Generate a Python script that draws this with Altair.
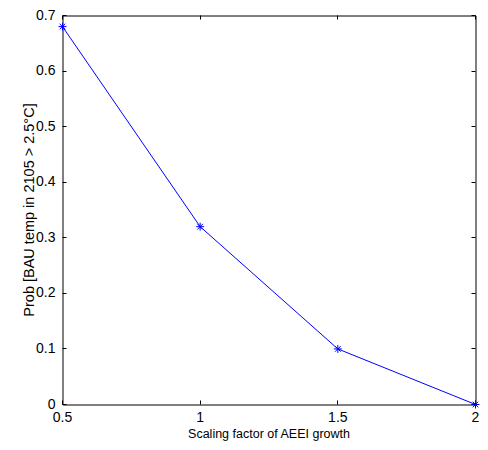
import altair as alt
import pandas as pd

scaling = [0.5, 1.0, 1.5, 2.0]
prob = [0.68, 0.32, 0.10, 0.0]
x_ticks = [0.5, 1, 1.5, 2]
y_ticks = [0, 0.1, 0.2, 0.3, 0.4, 0.5, 0.6, 0.7]

df = pd.DataFrame({"s": scaling, "p": prob})

LABEL_FONT = "Liberation Sans, Arial"
TITLE_FONT = "Liberation Sans, Arial"

xs = alt.Scale(domain=[0.5, 2], nice=False, zero=False)
ys = alt.Scale(domain=[0, 0.7], nice=False)

common = dict(grid=False, domain=False, tickColor="black", tickSize=4, offset=-4,
              labelFont=LABEL_FONT, labelFontSize=14, labelColor="black", translate=0)

base = alt.Chart(df)

line = base.mark_line(color="#0000ff", strokeWidth=1).encode(
    x=alt.X("s:Q", scale=xs, axis=alt.Axis(
        orient="bottom", values=x_ticks, format="~g", labelPadding=6,
        title="Scaling factor of AEEI growth", titleFont=TITLE_FONT, titleFontSize=12.5,
        titleFontWeight="normal", titleColor="black", titleBaseline="alphabetic",
        titleY=37, labelFlush=False, **common)),
    y=alt.Y("p:Q", scale=ys, axis=alt.Axis(
        orient="left", values=y_ticks, format="~g", labelPadding=7,
        title="Prob [BAU temp in 2105 > 2.5°C]", titleFont=TITLE_FONT, titleFontSize=14.5,
        titleFontWeight="normal", titleColor="black", titleBaseline="alphabetic",
        titleX=-33, titleAngle=-90, labelFlush=False, **common)),
)

star = "M-1,0L1,0M0,-1L0,1M-0.7,-0.7L0.7,0.7M-0.7,0.7L0.7,-0.7"
points = base.mark_point(shape=star, size=64, color="#0000ff", filled=False, strokeWidth=1, opacity=1).encode(
    x=alt.X("s:Q", scale=xs, axis=alt.Axis(orient="top", values=x_ticks, labels=False, title=None, **common)),
    y=alt.Y("p:Q", scale=ys, axis=alt.Axis(orient="right", values=y_ticks, labels=False, title=None, **common)),
)

chart = alt.layer(line, points).resolve_axis(x="independent", y="independent").properties(
    width=413, height=389,
    background="white",
    autosize=alt.AutoSizeParams(type="none"),
    padding={"left": 54.5, "top": 7.5, "right": 4.5, "bottom": 36},
).configure_view(stroke="black", strokeWidth=1)

chart.save("out.html", embed_options={"renderer": "svg", "actions": False})
